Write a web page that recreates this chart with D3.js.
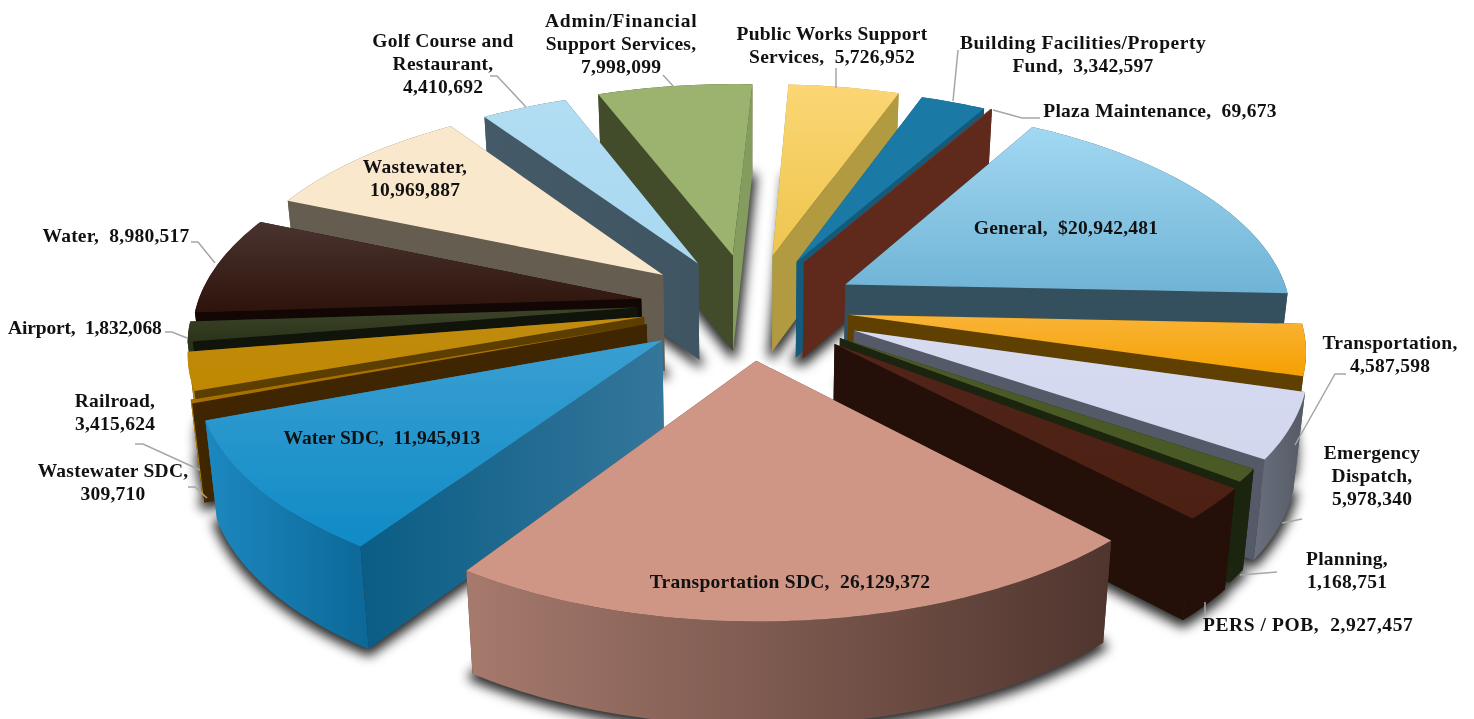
<!DOCTYPE html>
<html>
<head>
<meta charset="utf-8">
<script src="https://cdn.jsdelivr.net/npm/d3@7"></script>
<style>
html, body { margin: 0; padding: 0; background: #fff; overflow: hidden; }
text { font-family: "Liberation Serif", serif; font-weight: 700; font-size: 19.5px; letter-spacing: 0.25px; fill: #111; white-space: pre; }
</style>
</head>
<body>
<svg id="chart" width="1474" height="719"></svg>
<script>
// Values, clockwise starting at General
const names = ["General", "Transportation", "Emergency Dispatch", "Planning", "PERS / POB", "Transportation SDC",
    "Water SDC", "Wastewater SDC", "Railroad", "Airport", "Water", "Wastewater", "Golf Course and Restaurant",
    "Admin/Financial Support Services", "Public Works Support Services", "Building Facilities/Property Fund", "Plaza Maintenance"];
const values = [20942481, 4587598, 5978340, 1168751, 2927457, 26129372, 11945913, 309710, 3415624, 1832068,
    8980517, 10969887, 4410692, 7998099, 5726952, 3342597, 69673];

// Colours, same order: top face, outer wall, wall of start edge, wall of end edge
const topColors = [["#a2d8f2", "#6fb3d5"], ["#f9b437", "#f5a000"], ["#d6dbf0", "#d2d7ee"], ["#4a5a26", "#4a5a26"], ["#52241a", "#4c2013"], ["#cf9686", "#cf9686"],
    ["#3a9fd2", "#0f8bc6"], ["#a87000", "#a87000"], ["#c08c10", "#c08800"], ["#3c4429", "#2b3319"], ["#4a3430", "#2e130b"], ["#f9e8cc", "#f9e8cc"],
    ["#b2ddf3", "#a8d8f0"], ["#9bb36f", "#9bb36f"], ["#fbd673", "#eec54e"], ["#1a79a5", "#1a79a5"], ["#6b3d30", "#6b3d30"]];
const outerColors = [["#34505f", "#34505f"], ["#5f4000", "#5f4000"], ["#6a6f7d", "#555a66"], ["#1b240e", "#1b240e"], ["#241009", "#241009"], ["#a67a6d", "#4f352e"],
    ["#1c88c0", "#0c6898"], ["#c08500", "#c08500"], ["#b8860b", "#c08800"], ["#2b3319", "#2b3319"], ["#2e130b", "#2e130b"], ["#655d50", "#655d50"],
    ["#455a68", "#455a68"], ["#434c2a", "#434c2a"], ["#bca350", "#bca350"], ["#145a7a", "#145a7a"], ["#6b3d30", "#6b3d30"]];
const startWallColors = [["#34505f", "#34505f"], ["#5f4000", "#5f4000"], ["#555a68", "#555a68"], ["#1b240e", "#1b240e"], ["#241009", "#241009"], ["#4f352e", "#4f352e"],
    ["#0a5d85", "#35769b"], ["#3f2600", "#3f2600"], ["#5c3f00", "#5c3f00"], ["#10140a", "#10140a"], ["#120705", "#120705"], ["#655d50", "#655d50"],
    ["#455a68", "#3f5562"], ["#434c2a", "#434c2a"], ["#849c5e", "#849c5e"], ["#145a7a", "#145a7a"], ["#6b3d30", "#5f2a1c"]];
const endWallColors = [["#34505f", "#34505f"], ["#5f4000", "#5f4000"], ["#555a68", "#555a68"], ["#1b240e", "#1b240e"], ["#241009", "#241009"], ["#4f352e", "#4f352e"],
    ["#35769b", "#35769b"], ["#3f2600", "#3f2600"], ["#5c3f00", "#5c3f00"], ["#10140a", "#10140a"], ["#120705", "#120705"], ["#655d50", "#655d50"],
    ["#455a68", "#3f5562"], ["#849c5e", "#849c5e"], ["#b19a40", "#b19a40"], ["#145a7a", "#145a7a"], ["#5f2a1c", "#5f2a1c"]];

// How far each slice is pulled out of the pie, plus small per-slice fitting
const explode = [0.22, 0.22, 0.22, 0.21, 0.21, 0.25, 0.2, 0.22, 0.22, 0.23, 0.23, 0.2, 0.2, 0.2, 0.2, 0.2, 0.2];
const reach = [0.97, 0.975, 0.96, 0.965, 0.965, 0.96, 0.98, 0.98, 0.97, 0.96, 0.967, 0.96, 0.96, 0.95, 0.95, 0.96, 0.96];
const nudgeX = [10, 0, 13, 12, 13, -2, -12, -5, -5, -5, -3, -15, -8, -1, 7, 11, 11];
const nudgeY = [2, 2, 5, 6, 8, 0, 8, 3, 0, -3, 2, -3, -4, -8, -8, -5, -6];

// Label text lines, centre x, first line y, widths where the line needs fitting
const labelLines = [["General,  $20,942,481"], ["Transportation,", "4,587,598"], ["Emergency", "Dispatch,", "5,978,340"], ["Planning,", "1,168,751"],
    ["PERS / POB,  2,927,457"], ["Transportation SDC,  26,129,372"], ["Water SDC,  11,945,913"], ["Wastewater SDC,", "309,710"], ["Railroad,", "3,415,624"],
    ["Airport,  1,832,068"], ["Water,  8,980,517"], ["Wastewater,", "10,969,887"], ["Golf Course and", "Restaurant,", "4,410,692"],
    ["Admin/Financial", "Support Services,", "7,998,099"], ["Public Works Support", "Services,  5,726,952"], ["Building Facilities/Property", "Fund,  3,342,597"], ["Plaza Maintenance,  69,673"]];
const labelX = [1066, 1390, 1372, 1347, 1308, 790, 382, 113, 115, 85, 116, 415, 443, 621, 832, 1083, 1160];
const labelY = [228, 343, 453, 559, 625, 582, 438, 471, 401, 328, 236, 167, 41, 21, 34, 43, 111];
const labelFit = { "PERS / POB,  2,927,457": 210, "Water SDC,  11,945,913": 197, "Airport,  1,832,068": 154,
    "Admin/Financial": 152, "Building Facilities/Property": 246 };

// Leader lines
const leaders = [[[490, 76], [497, 76], [526, 107]], [[663, 75], [674, 87]], [[836, 68], [836, 88]], [[958, 50], [953, 101]],
    [[993, 110], [1022, 118], [1040, 118]], [[1346, 374], [1335, 374], [1295, 445]], [[1302, 519], [1282, 523]], [[1277, 572], [1240, 575]],
    [[1205, 602], [1205, 615]], [[135, 444], [143, 444], [200, 470]], [[188, 487], [195, 487], [207, 498]], [[165, 332], [172, 332], [187, 338]],
    [[191, 242], [198, 242], [215, 263]]];

const width = 1474, height = 719;
const cx = 748, cy = 305;
const radius = 460;   // px at mid depth
const tilt = 0.47;    // squash of the pie plane
const persp = 0.144;  // perspective strength
const depth = 97;     // wall height
const taper = 0.978;  // walls lean inward towards the bottom
const startAngle = 30 * Math.PI / 180;

// plane coordinates (x right, z to the viewer, pie radius = 1) to screen
function project(x, z, h) {
    const s = 1 / (1 - persp * z);
    const px = radius * x * s;
    return [cx + (h > 0 ? px * taper : px), cy + radius * tilt * z * s + h * (1 + 0.06 * z)];
}

const svg = d3.select("#chart");
const defs = svg.append("defs");
defs.append("filter").attr("id", "soft")
    .attr("x", "-10%").attr("y", "-10%").attr("width", "120%").attr("height", "120%")
    .append("feGaussianBlur").attr("stdDeviation", 6);

// gradients are reused by colour pair
const gradientIds = {};
function gradient(pair, vertical) {
    if (pair[0] === pair[1]) return pair[0];
    const key = pair.join("") + (vertical ? "v" : "h");
    if (!gradientIds[key]) {
        const id = "g" + Object.keys(gradientIds).length;
        gradientIds[key] = id;
        const g = defs.append("linearGradient").attr("id", id)
            .attr("x1", 0).attr("y1", 0)
            .attr("x2", vertical ? 0 : 1).attr("y2", vertical ? 1 : 0);
        g.append("stop").attr("offset", "0%").attr("stop-color", pair[0]);
        g.append("stop").attr("offset", "100%").attr("stop-color", pair[1]);
    }
    return "url(#" + gradientIds[key] + ")";
}

const pie = d3.pie().sort(null).startAngle(startAngle).endAngle(startAngle + 2 * Math.PI);
const arcs = pie(values);
const line = d3.line();

const slices = arcs.map((d, i) => {
    const mid = (d.startAngle + d.endAngle) / 2;
    const ox = explode[i] * Math.sin(mid);
    const oz = -explode[i] * Math.cos(mid);
    const shift = p => [p[0] + nudgeX[i], p[1] + nudgeY[i]];
    const at = (a, h) => shift(project(ox + reach[i] * Math.sin(a), oz - reach[i] * Math.cos(a), h));
    const n = Math.max(2, Math.ceil((d.endAngle - d.startAngle) / 0.02));
    const angles = d3.range(n + 1).map(k => d.startAngle + (d.endAngle - d.startAngle) * k / n);
    return {
        i: i, midZ: -Math.cos(mid),
        startZ: -Math.cos(d.startAngle), endZ: -Math.cos(d.endAngle),
        apexTop: shift(project(ox, oz, 0)), apexBottom: shift(project(ox, oz, depth)),
        arcTop: angles.map(a => at(a, 0)), arcBottom: angles.map(a => at(a, depth))
    };
});

// back slices first
const ordered = slices.slice().sort((a, b) => a.midZ - b.midZ);

// soft shadow of the footprints, behind the whole pie
svg.append("g").attr("filter", "url(#soft)").attr("transform", "translate(0,3)")
    .selectAll("path").data(ordered).join("path")
    .attr("fill", "#000").attr("stroke", "#000").attr("stroke-width", 8).attr("stroke-linejoin", "round")
    .attr("opacity", 0.85)
    .attr("d", s => line([s.apexBottom].concat(s.arcBottom)) + "Z");

function drawWall(g, points, fill) {
    g.append("path").attr("d", line(points) + "Z").attr("fill", fill);
}

svg.append("g").selectAll("g").data(ordered).join("g").each(function (s) {
    const g = d3.select(this);
    const e = s.arcTop.length - 1;
    const outer = () => drawWall(g, s.arcTop.concat(s.arcBottom.slice().reverse()), gradient(outerColors[s.i], false));
    const startWall = () => drawWall(g, [s.apexTop, s.arcTop[0], s.arcBottom[0], s.apexBottom], gradient(startWallColors[s.i], false));
    const endWall = () => drawWall(g, [s.apexTop, s.arcTop[e], s.arcBottom[e], s.apexBottom], gradient(endWallColors[s.i], false));
    // outer wall is behind the radial walls on the far half of the pie
    if (s.midZ < 0) outer();
    // the radial wall nearer to the viewer goes last
    if (s.startZ > s.endZ) { endWall(); startWall(); } else { startWall(); endWall(); }
    if (s.midZ >= 0) outer();
    drawWall(g, [s.apexTop].concat(s.arcTop), gradient(topColors[s.i], true));
});

svg.append("g").selectAll("path").data(leaders).join("path")
    .attr("d", d => line(d)).attr("fill", "none").attr("stroke", "#a6a6a6").attr("stroke-width", 1.5);

const lineHeight = 23;
const labels = svg.append("g").selectAll("text").data(labelLines).join("text")
    .attr("text-anchor", "middle");
labels.selectAll("tspan").data((d, i) => d.map((t, k) => ({ t: t, k: k, i: i }))).join("tspan")
    .attr("x", d => labelX[d.i])
    .attr("y", d => labelY[d.i] + d.k * lineHeight + 6)
    .attr("textLength", d => labelFit[d.t] || null)
    .text(d => d.t);
</script>
</body>
</html>
